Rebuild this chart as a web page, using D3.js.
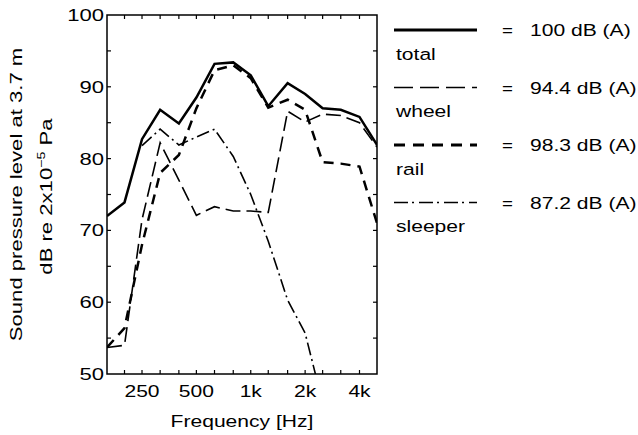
<!DOCTYPE html>
<html><head><meta charset="utf-8">
<script src="https://cdn.jsdelivr.net/npm/d3@7"></script>
<style>body{margin:0;background:#fff}</style>
</head><body><svg id="c" width="638" height="435"></svg>
<script>
// ---- data ----
const freqs   = [160,200,250,315,400,500,630,800,1000,1250,1600,2000,2500,3150,4000,5000];
const total   = [72.0,73.9,82.7,86.8,84.9,88.5,93.2,93.4,91.6,87.3,90.5,89.0,87.0,86.8,85.8,81.9];
const wheel   = [53.7,54.0,71.5,82.2,77.0,72.1,73.3,72.7,72.7,72.5,86.6,85.1,86.2,86.0,85.0,81.6];
const rail    = [53.7,56.4,68.0,78.0,80.5,87.0,92.3,93.0,91.2,87.1,88.2,86.8,79.5,79.3,78.9,71.0];
const sleeper = [null,null,81.8,84.1,81.9,83.0,84.1,80.3,75.0,68.5,60.3,55.7,46.0,null,null,null];
const xTickFreqs  = [200,250,315,400,500,630,800,1000,1250,1600,2000,2500,3150,4000];
const xLabelFreqs = [250,500,1000,2000,4000];
const xLabelTexts = ["250","500","1k","2k","4k"];
const yTicks  = [55,60,65,70,75,80,85,90,95];
const yLabels = [50,60,70,80,90,100];
const seriesNames  = ["total","wheel","rail","sleeper"];
const seriesLevels = ["100 dB (A)","94.4 dB (A)","98.3 dB (A)","87.2 dB (A)"];

// ---- styles ----
const styles = {
  total:   {w:2.5, dash:null},
  wheel:   {w:1.6, dash:"15,6"},
  rail:    {w:2.5, dash:"10,7"},
  sleeper: {w:1.6, dash:"13,4,2,4"}
};
const seriesData = {total, wheel, rail, sleeper};

const svg = d3.select("#c");
const L=107, R=377, T=15, B=374;
const x = d3.scaleLog().domain([160,5000]).range([L,R]);
const y = d3.scaleLinear().domain([50,100]).range([B,T]);
const FONT = "'Liberation Sans', Arial, Helvetica, sans-serif";
const SX = 1.24;

function txt(g, s, px, py, opts={}) {
  const t = g.append("text")
    .attr("transform", `translate(${px},${py})` + (opts.rot?` rotate(${opts.rot})`:"") + ` scale(${opts.sx||SX},1)`)
    .attr("font-family", FONT).attr("font-size", opts.size||17)
    .attr("text-anchor", opts.anchor||"start").attr("fill","#000");
  if (s !== null) t.text(s);
  return t;
}

svg.append("defs").append("clipPath").attr("id","clip")
  .append("rect").attr("x",L).attr("y",T).attr("width",R-L).attr("height",B-T);

// frame
svg.append("rect").attr("x",L).attr("y",T).attr("width",R-L).attr("height",B-T)
  .attr("fill","none").attr("stroke","#000").attr("stroke-width",1.5);

// ticks (inward, all four sides)
const tg = svg.append("g").attr("stroke","#000").attr("stroke-width",1.2);
xTickFreqs.forEach(f=>{
  tg.append("line").attr("x1",x(f)).attr("x2",x(f)).attr("y1",B).attr("y2",B-4);
  tg.append("line").attr("x1",x(f)).attr("x2",x(f)).attr("y1",T).attr("y2",T+4);
});
yTicks.forEach(v=>{
  tg.append("line").attr("x1",L).attr("x2",L+4).attr("y1",y(v)).attr("y2",y(v));
  tg.append("line").attr("x1",R).attr("x2",R-4).attr("y1",y(v)).attr("y2",y(v));
});

// tick labels
const lg = svg.append("g");
yLabels.forEach(v=> txt(lg, String(v), 104, y(v)+6, {anchor:"end", sx:1.3}));
xLabelFreqs.forEach((f,i)=> txt(lg, xLabelTexts[i], x(f), 397, {anchor:"middle"}));

// axis titles
txt(lg, "Frequency [Hz]", (L+R)/2, 427, {anchor:"middle"});
txt(lg, "Sound pressure level at 3.7 m", 22, (T+B)/2, {anchor:"middle", rot:-90, sx:1.3});
const t2 = txt(lg, null, 52, (T+B)/2+2, {anchor:"middle", rot:-90, sx:1.3});
t2.append("tspan").text("dB re 2x10");
t2.append("tspan").attr("font-size",11).attr("dy",-7).text("\u22125");
t2.append("tspan").attr("dy",7).text(" Pa");

// series lines
const line = d3.line().defined(d=>d[1]!==null).x(d=>x(d[0])).y(d=>y(d[1]));
const pg = svg.append("g").attr("clip-path","url(#clip)");
seriesNames.forEach(n=>{
  const st = styles[n];
  pg.append("path").datum(freqs.map((f,i)=>[f, seriesData[n][i]]))
    .attr("d", line).attr("fill","none").attr("stroke","#000")
    .attr("stroke-width", st.w).attr("stroke-dasharray", st.dash)
    .attr("stroke-linejoin","miter");
});

// legend
const leg = svg.append("g");
seriesNames.forEach((n,i)=>{
  const yy = 30 + i*57.5;
  const st = styles[n];
  leg.append("line").attr("x1",394).attr("x2",477).attr("y1",yy).attr("y2",yy)
    .attr("stroke","#000").attr("stroke-width", n==="total"?2.8:(n==="rail"?3:1.6))
    .attr("stroke-dasharray", n==="wheel"?"19,7":(n==="rail"?"11,8":(n==="sleeper"?"14,4,2,5":null)));
  txt(leg, "=", 502, yy+6, {sx:1.1});
  txt(leg, seriesLevels[i], 530, yy+6);
  txt(leg, n, 396, yy+29.5);
});
</script></body></html>
